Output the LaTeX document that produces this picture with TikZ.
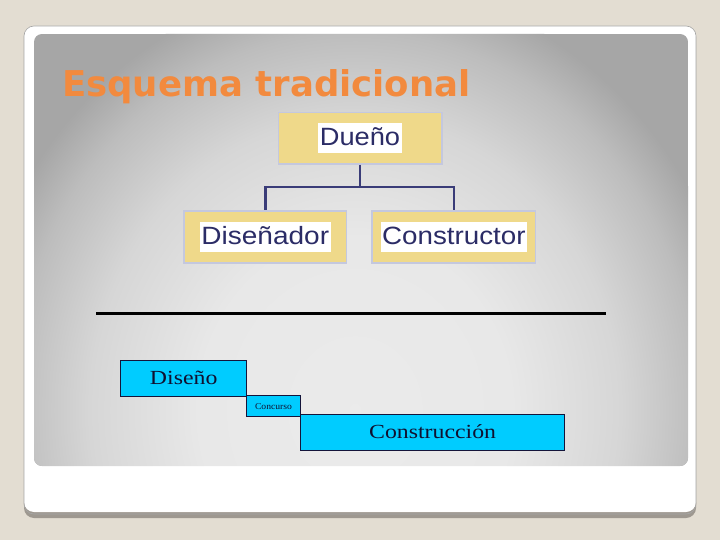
\documentclass[tikz,border=0pt]{standalone}
\usepackage{fontspec}
\setmainfont{Liberation Serif}
\newfontfamily\arialf{Liberation Sans}
\newfontfamily\titlef{DejaVu Sans}
\definecolor{bgbeige}{HTML}{E3DDD2}
\definecolor{cardshadow}{HTML}{9E9890}
\definecolor{titleorange}{HTML}{F28A3E}
\definecolor{boxyellow}{HTML}{EFD98A}
\definecolor{boxedge}{HTML}{C4C8DE}
\definecolor{connblue}{HTML}{3A3C78}
\definecolor{textnavy}{HTML}{2B2C66}
\definecolor{cyanbox}{HTML}{00CCFF}
\definecolor{cyanedge}{HTML}{14143A}
\definecolor{cyantext}{HTML}{101030}
\pgfdeclareradialshading{panelshade}{\pgfpoint{0bp}{0bp}}{%
  color(0bp)=(black!8); color(10bp)=(black!9); color(17bp)=(black!16);
  color(22bp)=(black!26); color(25bp)=(black!35); color(50bp)=(black!35)}
\tikzset{
  ybox/.style={draw=boxedge, line width=1.3pt, fill=boxyellow, rectangle, inner sep=0pt},
  wlabel/.style={fill=white, inner sep=1.5pt, text height=21pt, text depth=6pt, text=textnavy,
    font=\arialf\fontsize{25}{25}\selectfont},
  conn/.style={draw=connblue, line width=2.4pt},
  cbox/.style={draw=cyanedge, line width=1pt, fill=cyanbox, rectangle, inner sep=0pt, text=cyantext},
}
\begin{document}
\begin{tikzpicture}[x=1pt,y=-1pt]
\useasboundingbox (0,0) rectangle (720,540);
\fill[bgbeige] (0,0) rectangle (720,540);
% card
\fill[cardshadow, rounded corners=10pt] (24,27) rectangle (696,518);
\fill[white, rounded corners=10pt] (24,26) rectangle (696,512);
\draw[gray!70, line width=0.6pt, rounded corners=10pt] (24,26) rectangle (696,514);
% grey panel
\begin{scope}
\clip[rounded corners=8pt] (34,34) rectangle (688,466);
\fill[black!35] (34,34) rectangle (688,466);
\shade[shading=panelshade] (355,410) ellipse [x radius=390pt, y radius=430pt];
\end{scope}
% title
\node[anchor=base west, inner sep=0pt, text=titleorange, font=\titlef\bfseries\fontsize{35.5}{36}\selectfont] (title) at (62,97) {Esquema tradicional};
% org chart
\node[ybox, minimum width=163.7pt, minimum height=51.3pt] (dueno) at (360,138.3) {};
\node[wlabel] (duenoL) at (dueno.center) {\scalebox{1.09}[1]{Dueño}};
\node[ybox, minimum width=162.7pt, minimum height=52pt] (disen) at (265.3,237) {};
\node[wlabel] (disenL) at (disen.center) {\scalebox{1.12}[1]{Diseñador}};
\node[ybox, minimum width=163.7pt, minimum height=52pt] (constr) at (453.9,237) {};
\node[wlabel] (constrL) at (constr.center) {\scalebox{1.11}[1]{Constructor}};
\coordinate (split) at (360,187);
\draw[conn] (dueno.south) -- (split);
\draw[conn] (split) -| (disen.north);
\draw[conn] (split) -| (constr.north);
% black rule
\coordinate (ruleL) at (96,313);
\coordinate (ruleR) at (606,313);
\draw[line width=3pt, black] (ruleL) -- (ruleR);
% phases
\node[cbox, minimum width=126pt, minimum height=36pt, font=\fontsize{20}{20}\selectfont] (diseno) at (183.7,378) {\scalebox{1.19}[1]{Diseño}};
\node[cbox, minimum width=53.6pt, minimum height=20.7pt, font=\fontsize{9}{9}\selectfont] (concurso) at (273.5,406.3) {\scalebox{1.07}[1]{Concurso}};
\node[cbox, minimum width=264.7pt, minimum height=36pt, font=\fontsize{20}{20}\selectfont] (constru) at (432.6,432) {\scalebox{1.19}[1]{Construcción}};
\end{tikzpicture}
\end{document}
